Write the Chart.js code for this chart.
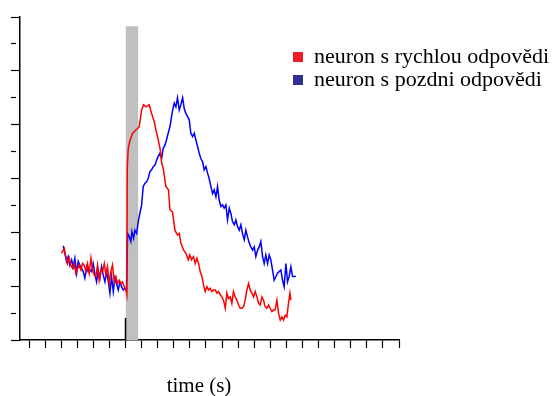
<!DOCTYPE html>
<html><head><meta charset="utf-8">
<script src="https://cdn.jsdelivr.net/npm/chart.js@4/dist/chart.umd.min.js"></script>
<style>html,body{margin:0;padding:0;background:#fff}canvas{display:block}</style>
</head><body>
<canvas id="c" width="560" height="396"></canvas>
<script>
// ---- data ----
const seriesNames = ['neuron s rychlou odpovědi', 'neuron s pozdni odpovědi'];
const xTitle = 'time (s)';

const redTimes = [-398,-381,-371,-360,-350,-340,-329,-319,-309,-298,-288,-277,-267,-257,-246,-236,-226,-215,-205,-195,-184,-174,-164,-153,-143,-132,-122,-112,-101,-91,-81,-70,-60,-50,-39,-29,-19,-8,2,8,11,17,29,44,54,64,75,85,100,112,127,147,162,178,189,199,216,224,236,251,267,276,292,307,323,334,344,361,375,390,400,410,423,433,444,454,464,475,485,495,506,516,526,537,547,558,568,578,589,599,609,620,630,640,651,661,671,682,692,703,713,723,734,744,754,765,775,785,796,806,817,827,837,848,858,868,879,889,899,910,920,930,941,951,962,972,982,993,1003,1013,1022,1028];
const redValues = [16.1,17.0,15.5,14.2,15.2,13.9,13.3,14.2,12.4,13.3,13.9,13.0,14.2,13.9,12.7,14.2,12.4,15.2,13.0,12.1,11.8,13.9,11.1,13.0,12.7,14.2,12.1,13.6,10.5,12.7,13.9,10.8,11.8,10.5,11.1,10.5,10.8,9.9,9.3,8.4,32.2,35.6,37.2,38.4,38.7,39.0,39.3,39.6,42.7,43.7,43.3,43.7,42.1,40.6,39.0,37.8,35.3,33.1,31.6,28.5,27.9,24.2,23.8,20.4,19.5,19.8,18.0,16.7,16.1,14.9,15.8,14.9,15.5,14.2,15.2,14.2,12.7,11.8,10.2,9.0,9.9,9.3,9.6,9.0,9.3,9.3,8.7,9.0,8.4,8.0,7.4,5.9,8.7,7.7,8.0,6.8,9.0,8.0,7.4,6.5,5.9,5.9,6.2,7.4,9.3,10.5,9.3,8.7,8.0,9.0,8.0,6.8,6.5,8.0,7.4,6.2,5.9,6.5,5.9,5.3,5.6,5.6,7.4,5.0,3.7,4.3,3.7,4.6,4.3,6.8,8.7,7.4];

const blueTimes = [-387,-377,-367,-356,-346,-335,-325,-315,-304,-294,-284,-273,-263,-253,-242,-232,-221,-211,-201,-190,-180,-170,-159,-149,-139,-128,-118,-108,-97,-87,-76,-66,-56,-45,-35,-25,-14,-4,6,13,23,33,40,50,58,69,79,89,100,110,120,131,141,152,162,172,183,193,203,214,224,234,245,255,265,276,286,297,303,313,323,334,344,355,365,375,386,396,406,417,427,437,448,458,468,479,489,500,510,520,531,541,551,562,572,582,593,603,613,624,634,645,655,665,676,686,696,707,717,727,738,748,758,769,779,790,800,810,821,831,841,852,862,872,883,893,903,914,924,935,945,955,966,976,986,997,1007,1017,1028,1038,1048,1059];
const blueValues = [17.5,16.1,14.6,15.5,13.9,14.9,13.6,15.2,12.4,14.6,13.9,13.3,12.7,11.5,13.6,12.7,13.0,12.7,14.2,12.1,10.8,13.0,11.5,13.6,12.1,10.8,12.7,11.1,8.7,11.8,9.0,11.5,10.5,9.3,10.8,9.9,9.3,9.6,9.3,19.8,19.2,18.3,20.1,18.9,20.4,19.8,22.0,23.5,25.1,28.5,29.1,29.4,30.0,31.3,31.6,32.2,32.5,33.4,34.1,34.7,33.7,35.6,36.2,37.2,38.4,39.6,41.5,43.3,44.0,43.3,45.0,42.7,43.7,45.0,43.0,42.1,41.5,40.9,38.4,37.8,38.4,37.2,35.9,34.7,33.7,33.1,31.6,32.2,31.0,30.0,28.5,27.2,27.9,26.6,28.5,26.0,24.8,25.1,24.5,25.1,22.3,24.5,23.5,22.0,21.4,22.3,21.1,20.4,21.4,19.8,18.6,20.4,19.2,18.0,17.3,16.7,17.3,15.5,16.7,17.3,18.3,15.5,14.2,15.8,14.2,15.8,14.9,13.0,11.1,11.8,12.4,12.7,13.0,11.1,9.9,14.2,10.8,11.8,13.6,11.8,11.8,11.8];

const stimulusTimes = [0, 80];
const stimulusTop = [58.3, 58.3];
const onsetTimes = [0, 0];
const onsetValues = [0, 4.1];

const xTicks = [-600,-500,-400,-300,-200,-100,0,100,200,300,400,500,600,700,800,900,1000,1100,1200,1300,1400,1500,1600,1700];
const yTicks = [0,5,10,15,20,25,30,35,40,45,50,55,60];

// ---- styles ----
const lineColors = ['#ff0000', '#0000ff'];
const legendColors = ['#ed1c24', '#2e3192'];
const serif = 'Liberation Serif, "Times New Roman", serif';

const toPts = (xs, ys) => xs.map((x, i) => ({x: x, y: ys[i]}));

const legendPlacer = {
  id: 'legendPlacer',
  afterLayout(chart) {
    const lg = chart.legend;
    if (!lg) return;
    const w = lg.width, h = lg.height;
    lg.left = 292; lg.top = 45; lg.right = 292 + w; lg.bottom = 45 + h;
  }
};

new Chart(document.getElementById('c'), {
  type: 'line',
  data: {
    datasets: [
      {label: seriesNames[0], data: toPts(redTimes, redValues), borderColor: lineColors[0], backgroundColor: legendColors[0], borderWidth: 1.5, pointRadius: 0, fill: false, tension: 0, order: 1},
      {label: seriesNames[1], data: toPts(blueTimes, blueValues), borderColor: lineColors[1], backgroundColor: legendColors[1], borderWidth: 1.5, pointRadius: 0, fill: false, tension: 0, order: 2},
      {label: 'stimulus', data: toPts(stimulusTimes, stimulusTop), borderColor: 'rgba(0,0,0,0)', borderWidth: 0, backgroundColor: '#c0c0c0', fill: 'origin', pointRadius: 0, order: 3},
      {label: 'onset', data: toPts(onsetTimes, onsetValues), borderColor: '#000', borderWidth: 1.5, pointRadius: 0, fill: false, order: 0}
    ]
  },
  options: {
    responsive: false,
    animation: false,
    devicePixelRatio: 1,
    layout: {padding: {left: 11, right: 161, top: 17, bottom: 0}},
    scales: {
      x: {
        type: 'linear', min: -656, max: 1700,
        afterBuildTicks: s => { s.ticks = xTicks.map(v => ({value: v})); },
        ticks: {display: false},
        grid: {drawOnChartArea: false, drawTicks: true, tickLength: 8, tickWidth: 1.2, tickColor: '#000'},
        border: {display: true, color: '#000', width: 1.5},
        title: {display: true, text: xTitle + '    ', color: '#000', font: {family: serif, size: 21, lineHeight: 1}, padding: {top: 28, bottom: -1}}
      },
      y: {
        type: 'linear', min: 0, max: 60,
        afterBuildTicks: s => { s.ticks = yTicks.map(v => ({value: v})); },
        ticks: {display: false},
        grid: {drawOnChartArea: false, drawTicks: true, tickLength: 9, tickWidth: 1.2, tickColor: '#000',
          tickBorderDash: c => (c.tick && c.tick.value % 10 !== 0) ? [5, 50] : []},
        border: {display: true, color: '#000', width: 1.5}
      }
    },
    plugins: {
      tooltip: {enabled: false},
      legend: {
        display: true, position: 'chartArea', align: 'start',
        labels: {
          font: {family: serif, size: 22}, color: '#000', boxWidth: 10, boxHeight: 10, padding: 1,
          filter: item => item.datasetIndex < 2,
          generateLabels: chart => Chart.defaults.plugins.legend.labels.generateLabels(chart).map(it => Object.assign(it, {fillStyle: legendColors[it.datasetIndex] || it.fillStyle, lineWidth: 0, strokeStyle: 'rgba(0,0,0,0)'}))
        }
      }
    }
  },
  plugins: [legendPlacer]
});
</script>
</body></html>
